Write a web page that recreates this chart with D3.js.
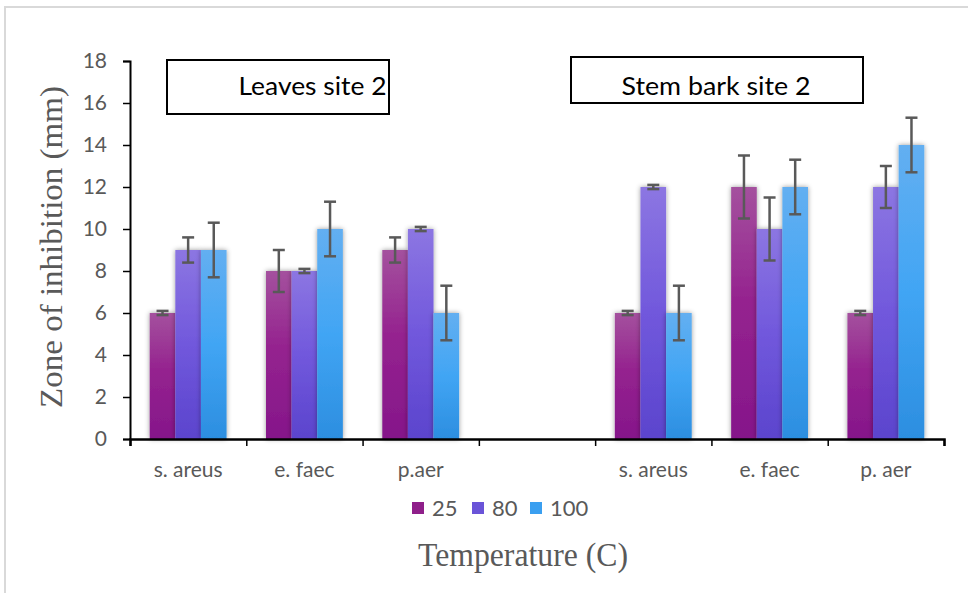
<!DOCTYPE html>
<html>
<head>
<meta charset="utf-8">
<script src="https://cdn.jsdelivr.net/npm/d3@7"></script>
<style>
  html, body { margin: 0; padding: 0; background: #fff; }
  svg { display: block; }
</style>
</head>
<body>
<svg id="chart" width="968" height="593"></svg>
<script>
// Zone of inhibition by organism, extract source and temperature
const categories = ["s. areus", "e. faec", "p.aer", "", "s. areus", "e. faec", "p. aer"];
const temperatures = ["25", "80", "100"];
const values25  = [6, 8, 9, null, 6, 12, 6];
const values80  = [9, 8, 10, null, 12, 10, 12];
const values100 = [9, 10, 6, null, 6, 12, 14];
const errors25  = [0.1, 1.0, 0.6, null, 0.1, 1.5, 0.1];
const errors80  = [0.6, 0.1, 0.1, null, 0.1, 1.5, 1.0];
const errors100 = [1.3, 1.3, 1.3, null, 1.3, 1.3, 1.3];
const yTicks = [0, 2, 4, 6, 8, 10, 12, 14, 16, 18];
const panelTitles = ["Leaves site 2", "Stem bark site 2"];

const seriesValues = [values25, values80, values100];
const seriesErrors = [errors25, errors80, errors100];

const svg = d3.select("#chart");
const W = 968, H = 593;
const sansFont = "Lato, 'Open Sans', sans-serif";
const serifFont = "'Liberation Serif', 'DejaVu Serif', serif";

// outer frame
svg.append("rect")
  .attr("x", 5).attr("y", 7)
  .attr("width", W + 20).attr("height", H + 20)
  .attr("fill", "#fff").attr("stroke", "#d9d9d9").attr("stroke-width", 2);

const defs = svg.append("defs");
const gradStops = [
  [["0%", "#a4519e"], ["45%", "#95238f"], ["100%", "#85168a"]],
  [["0%", "#8c76e2"], ["50%", "#7158dc"], ["100%", "#5b44cd"]],
  [["0%", "#63aff1"], ["50%", "#41a5f4"], ["100%", "#2c8ee0"]]
];
gradStops.forEach((stops, i) => {
  const g = defs.append("linearGradient")
    .attr("id", "grad" + i).attr("x1", 0).attr("y1", 0).attr("x2", 0).attr("y2", 1);
  stops.forEach(s => g.append("stop").attr("offset", s[0]).attr("stop-color", s[1]));
});
const shadow = defs.append("filter").attr("id", "barShadow")
  .attr("x", "-30%").attr("y", "-10%").attr("width", "160%").attr("height", "120%");
shadow.append("feDropShadow").attr("dx", 0).attr("dy", 0)
  .attr("stdDeviation", 2.4).attr("flood-color", "#000").attr("flood-opacity", 0.4);

const legendColors = ["#8f1f8a", "#6a54d8", "#3a9ff0"];

const x0 = d3.scaleBand()
  .domain(categories.map((d, i) => i))
  .range([130, 944])
  .paddingInner(0).paddingOuter(0);
const x1 = d3.scaleBand()
  .domain(temperatures.map((d, i) => i))
  .range([0, x0.bandwidth()])
  .paddingInner(0).paddingOuter(0.77);
const y = d3.scaleLinear().domain([0, 18]).range([439, 61]);

// bars
const groups = svg.append("g").selectAll("g")
  .data(categories.map((c, i) => i))
  .join("g")
  .attr("transform", i => `translate(${x0(i)},0)`);

groups.each(function (ci) {
  const g = d3.select(this);
  temperatures.forEach((t, si) => {
    const v = seriesValues[si][ci];
    if (v == null) return;
    g.append("rect")
      .attr("x", x1(si))
      .attr("y", y(v))
      .attr("width", x1.bandwidth())
      .attr("height", y(0) - y(v))
      .attr("fill", `url(#grad${si})`)
      .attr("filter", "url(#barShadow)");
  });
});

// error bars
groups.each(function (ci) {
  const g = d3.select(this);
  temperatures.forEach((t, si) => {
    const v = seriesValues[si][ci];
    const e = seriesErrors[si][ci];
    if (v == null) return;
    const cx = x1(si) + x1.bandwidth() / 2;
    const eg = g.append("g").attr("stroke", "#595959").attr("stroke-width", 2.5);
    eg.append("line").attr("x1", cx).attr("x2", cx).attr("y1", y(v + e)).attr("y2", y(v - e));
    [v + e, v - e].forEach(ev => {
      eg.append("line").attr("x1", cx - 6).attr("x2", cx + 6).attr("y1", y(ev)).attr("y2", y(ev));
    });
  });
});

// y axis
const yAxis = svg.append("g")
  .attr("transform", "translate(130,0)")
  .call(d3.axisLeft(y).tickValues(yTicks).tickSize(7).tickPadding(16));
yAxis.select(".domain").attr("stroke", "#000").attr("stroke-width", 2);
yAxis.selectAll(".tick line").attr("stroke", "#000").attr("stroke-width", 1.5);
yAxis.selectAll("text")
  .attr("fill", "#595959").attr("font-family", sansFont).attr("font-size", 21);

// x axis: ticks at category boundaries, labels centred in each band
const boundaries = categories.map((c, i) => x0(i)).concat([x0.range()[1]]);
const xb = d3.scaleLinear().domain([130, 944]).range([130, 944]);
const xAxis = svg.append("g")
  .attr("transform", `translate(0,${y(0)})`)
  .call(d3.axisBottom(xb).tickValues(boundaries).tickSize(7).tickFormat(""));
xAxis.select(".domain").attr("stroke", "#000").attr("stroke-width", 2.5);
xAxis.selectAll(".tick line").attr("stroke", "#000").attr("stroke-width", 1.5);

svg.append("g").selectAll("text")
  .data(categories)
  .join("text")
  .attr("x", (d, i) => x0(i) + x0.bandwidth() / 2)
  .attr("y", 477)
  .attr("text-anchor", "middle")
  .attr("fill", "#595959")
  .attr("font-family", sansFont)
  .attr("font-size", 21)
  .text(d => d);

// legend
const legend = svg.append("g").attr("font-family", sansFont);
const legendX = [412, 472, 530];
temperatures.forEach((t, i) => {
  legend.append("rect").attr("x", legendX[i]).attr("y", 502)
    .attr("width", 12).attr("height", 12).attr("fill", legendColors[i]);
  legend.append("text").attr("x", legendX[i] + 20).attr("y", 516)
    .attr("fill", "#595959").attr("font-size", 22).text(t);
});

// axis titles
svg.append("text")
  .attr("transform", "translate(62,247) rotate(-90)")
  .attr("text-anchor", "middle")
  .attr("fill", "#595959")
  .attr("font-family", serifFont)
  .attr("font-size", 32)
  .attr("textLength", 322).attr("lengthAdjust", "spacingAndGlyphs")
  .text("Zone of inhibition (mm)");

svg.append("text")
  .attr("x", 523).attr("y", 566)
  .attr("text-anchor", "middle")
  .attr("fill", "#595959")
  .attr("font-family", serifFont)
  .attr("font-size", 33)
  .attr("textLength", 210).attr("lengthAdjust", "spacingAndGlyphs")
  .text("Temperature (C)");

// panel title boxes
const boxes = [
  { x: 167, y: 60, w: 222, h: 54, tx: 312.5, len: 148 },
  { x: 571, y: 57, w: 292, h: 46, tx: 716, len: 189 }
];
boxes.forEach((b, i) => {
  svg.append("rect").attr("x", b.x).attr("y", b.y).attr("width", b.w).attr("height", b.h)
    .attr("fill", "#fff").attr("stroke", "#000").attr("stroke-width", 2);
  svg.append("text").attr("x", b.tx).attr("y", 95)
    .attr("text-anchor", "middle")
    .attr("fill", "#000")
    .attr("font-family", sansFont)
    .attr("font-size", 25)
    .attr("textLength", b.len).attr("lengthAdjust", "spacingAndGlyphs")
    .text(panelTitles[i]);
});
</script>
</body>
</html>
